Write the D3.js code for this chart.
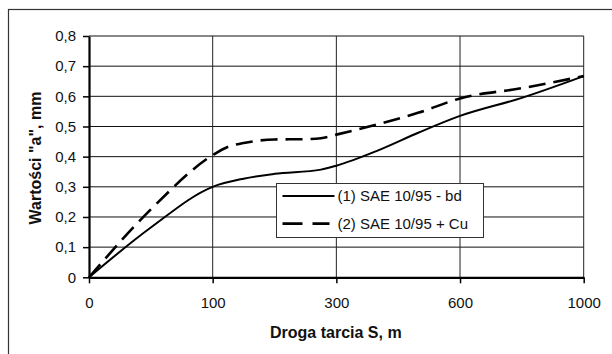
<!DOCTYPE html>
<html>
<head>
<meta charset="utf-8">
<script src="https://cdn.jsdelivr.net/npm/d3@7"></script>
<style>
  body { margin: 0; background: #fff; }
  svg { display: block; font-family: Arial, "Liberation Sans", sans-serif; }
</style>
</head>
<body>
<svg id="chart" width="612" height="354"></svg>
<script>
// categories on the x axis (evenly spaced in the original)
const xTicks = [0, 100, 300, 600, 1000];
const yTicks = [0, 0.1, 0.2, 0.3, 0.4, 0.5, 0.6, 0.7, 0.8];
const yTickLabels = ["0", "0,1", "0,2", "0,3", "0,4", "0,5", "0,6", "0,7", "0,8"];

// series (x in m, value in mm)
const sX1 = [0, 50, 100, 150, 200, 275, 300, 400, 500, 600, 800, 1000];
const sY1 = [0, 0.165, 0.30, 0.327, 0.343, 0.357, 0.37, 0.42, 0.48, 0.535, 0.595, 0.667];
const sX2 = [0, 50, 100, 125, 150, 200, 250, 275, 300, 400, 500, 600, 800, 1000];
const sY2 = [0, 0.225, 0.405, 0.433, 0.445, 0.457, 0.458, 0.461, 0.473, 0.507, 0.546, 0.593, 0.627, 0.667];

const seriesNames = ["(1) SAE 10/95 - bd", "(2) SAE 10/95 + Cu"];

const svg = d3.select("#chart");
const plotL = 89, plotR = 583.7, plotT = 36, plotB = 277.3;
const step = (plotR - plotL) / (xTicks.length - 1);

// outer frame (cut off at right and bottom in the original)
svg.append("rect")
  .attr("x", 8.5).attr("y", 9.5)
  .attr("width", 700).attr("height", 500)
  .attr("fill", "none").attr("stroke", "#333").attr("stroke-width", 1.2);

// polylinear scale so the category ticks are evenly spaced
const x = d3.scaleLinear()
  .domain(xTicks)
  .range(xTicks.map((d, i) => plotL + i * step));

const y = d3.scaleLinear()
  .domain([0, 0.8])
  .range([plotB, plotT]);

// grid
svg.append("g")
  .selectAll("line")
  .data(yTicks.slice(1))
  .enter().append("line")
    .attr("x1", plotL).attr("x2", plotR)
    .attr("y1", d => y(d)).attr("y2", d => y(d))
    .attr("stroke", "#111").attr("stroke-width", 1);

svg.append("g")
  .selectAll("line")
  .data(xTicks.slice(1))
  .enter().append("line")
    .attr("x1", d => x(d)).attr("x2", d => x(d))
    .attr("y1", plotT).attr("y2", plotB)
    .attr("stroke", "#222").attr("stroke-width", 1);

// axes
const yAxis = svg.append("g")
  .attr("transform", `translate(${plotL},0)`)
  .call(d3.axisLeft(y).tickValues(yTicks)
    .tickFormat((d, i) => yTickLabels[i])
    .tickSize(6).tickPadding(7).tickSizeOuter(0));

const xAxis = svg.append("g")
  .attr("transform", `translate(0,${plotB})`)
  .call(d3.axisBottom(x).tickValues(xTicks)
    .tickFormat(d => d.toString())
    .tickSize(6).tickPadding(14).tickSizeOuter(0));

[xAxis, yAxis].forEach(g => {
  g.select(".domain").attr("stroke", "#000").attr("stroke-width", 2.2);
  g.selectAll(".tick line").attr("stroke", "#000").attr("stroke-width", 1.5);
  g.selectAll("text")
    .attr("fill", "#111")
    .style("font-family", "Arial, 'Liberation Sans', sans-serif")
    .style("font-size", "15px");
});

// axis titles
svg.append("text")
  .attr("x", (plotL + plotR) / 2 - 0.5).attr("y", 337.5)
  .attr("text-anchor", "middle")
  .style("font-size", "16px").style("font-weight", "bold")
  .attr("fill", "#111")
  .text("Droga tarcia S, m");

svg.append("text")
  .attr("transform", `translate(41,158) rotate(-90)`)
  .attr("text-anchor", "middle")
  .style("font-size", "16px").style("font-weight", "bold")
  .attr("fill", "#111")
  .text("Wartości \"a\", mm");

// lines
const line = d3.line()
  .x(d => x(d[0]))
  .y(d => y(d[1]))
  .curve(d3.curveMonotoneX);

const series = [
  { pts: sX1.map((v, i) => [v, sY1[i]]), dash: null, w: 2 },
  { pts: sX2.map((v, i) => [v, sY2[i]]), dash: "17,8", w: 2.6 }
];

svg.append("g")
  .selectAll("path")
  .data(series)
  .enter().append("path")
    .attr("d", d => line(d.pts))
    .attr("fill", "none")
    .attr("stroke", "#000")
    .attr("stroke-width", d => d.w)
    .attr("stroke-dasharray", d => d.dash);

// legend
const lg = svg.append("g").attr("transform", "translate(276.5,183.5)");
lg.append("rect")
  .attr("width", 207).attr("height", 54)
  .attr("fill", "#fff").attr("stroke", "#333").attr("stroke-width", 1);

lg.selectAll("g")
  .data(seriesNames)
  .enter().append("g")
    .attr("transform", (d, i) => `translate(0,${12.5 + i * 27.6})`)
    .each(function(d, i) {
      const g = d3.select(this);
      g.append("line")
        .attr("x1", 6).attr("x2", i ? 53 : 58)
        .attr("stroke", "#000")
        .attr("stroke-width", series[i].w)
        .attr("stroke-dasharray", i ? "20,10" : null);
      g.append("text")
        .attr("x", 61).attr("dy", "0.36em")
        .style("font-size", "15px")
        .attr("fill", "#111")
        .text(d);
    });
</script>
</body>
</html>
